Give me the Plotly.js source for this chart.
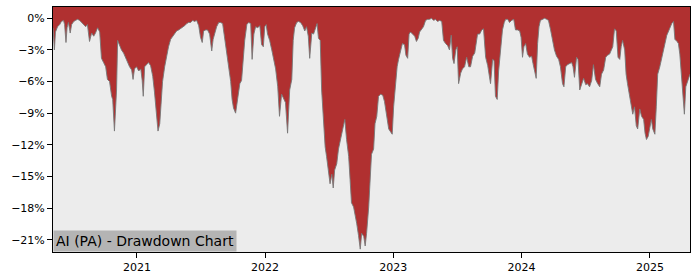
<!DOCTYPE html>
<html>
<head>
<meta charset="utf-8">
<script src="https://cdn.plot.ly/plotly-3.0.1.min.js"></script>
<style>html,body{margin:0;padding:0;background:#fff}#chart{width:700px;height:280px}</style>
</head>
<body>
<div id="chart"></div>
<script>
const chartTitle = "AI (PA) - Drawdown Chart";

const dates = [
"2020-05-07","2020-05-11","2020-05-14","2020-05-17","2020-05-20","2020-05-26","2020-05-31","2020-06-06","2020-06-09","2020-06-13",
"2020-06-16","2020-06-20","2020-06-25","2020-06-29","2020-07-05","2020-07-10","2020-07-16","2020-07-22","2020-07-27","2020-08-02",
"2020-08-08","2020-08-13","2020-08-19","2020-08-25","2020-08-31","2020-09-05","2020-09-11","2020-09-17","2020-09-22","2020-09-28",
"2020-10-04","2020-10-09","2020-10-15","2020-10-21","2020-10-24","2020-10-29","2020-11-04","2020-11-07","2020-11-13","2020-11-18",
"2020-11-24","2020-11-30","2020-12-05","2020-12-11","2020-12-17","2020-12-21","2020-12-25","2020-12-31","2021-01-06","2021-01-12",
"2021-01-16","2021-01-19","2021-01-23","2021-01-29","2021-02-03","2021-02-09","2021-02-15","2021-02-20","2021-02-26","2021-03-02",
"2021-03-07","2021-03-11","2021-03-15","2021-03-21","2021-03-27","2021-04-01","2021-04-07","2021-04-13","2021-04-18","2021-04-24",
"2021-04-30","2021-05-05","2021-05-11","2021-05-17","2021-05-23","2021-05-28","2021-06-03","2021-06-09","2021-06-14","2021-06-20",
"2021-06-26","2021-07-01","2021-07-06","2021-07-10","2021-07-16","2021-07-21","2021-07-27","2021-08-02","2021-08-06","2021-08-10",
"2021-08-16","2021-08-22","2021-08-27","2021-09-02","2021-09-08","2021-09-14","2021-09-19","2021-09-25","2021-09-29","2021-10-03",
"2021-10-09","2021-10-15","2021-10-21","2021-10-26","2021-10-31","2021-11-04","2021-11-10","2021-11-15","2021-11-21","2021-11-25",
"2021-11-30","2021-12-05","2021-12-11","2021-12-17","2021-12-22","2021-12-27","2021-12-31","2022-01-04","2022-01-08","2022-01-14",
"2022-01-20","2022-01-25","2022-01-31","2022-02-06","2022-02-11","2022-02-17","2022-02-23","2022-02-28","2022-03-06","2022-03-12",
"2022-03-18","2022-03-22","2022-03-26","2022-04-01","2022-04-06","2022-04-12","2022-04-18","2022-04-24","2022-04-29","2022-05-04",
"2022-05-08","2022-05-14","2022-05-19","2022-05-25","2022-05-29","2022-06-02","2022-06-07","2022-06-11","2022-06-17","2022-06-21",
"2022-06-25","2022-07-01","2022-07-05","2022-07-10","2022-07-14","2022-07-18","2022-07-24","2022-07-29","2022-08-04","2022-08-10",
"2022-08-16","2022-08-21","2022-08-27","2022-08-31","2022-09-04","2022-09-10","2022-09-14","2022-09-19","2022-09-24","2022-09-29",
"2022-10-03","2022-10-09","2022-10-13","2022-10-17","2022-10-23","2022-10-27","2022-10-31","2022-11-06","2022-11-10","2022-11-15",
"2022-11-20","2022-11-26","2022-12-02","2022-12-07","2022-12-13","2022-12-19","2022-12-25","2022-12-29","2023-01-02","2023-01-08",
"2023-01-12","2023-01-16","2023-01-22","2023-01-27","2023-02-02","2023-02-06","2023-02-11","2023-02-15","2023-02-19","2023-02-25",
"2023-03-03","2023-03-08","2023-03-13","2023-03-17","2023-03-23","2023-03-28","2023-04-03","2023-04-09","2023-04-14","2023-04-20",
"2023-04-26","2023-05-01","2023-05-07","2023-05-13","2023-05-19","2023-05-24","2023-05-30","2023-06-05","2023-06-10","2023-06-15",
"2023-06-19","2023-06-23","2023-06-28","2023-07-02","2023-07-06","2023-07-12","2023-07-17","2023-07-23","2023-07-29","2023-08-04",
"2023-08-09","2023-08-15","2023-08-21","2023-08-25","2023-08-29","2023-09-04","2023-09-10","2023-09-15","2023-09-21","2023-09-27",
"2023-10-01","2023-10-05","2023-10-11","2023-10-15","2023-10-19","2023-10-24","2023-10-28","2023-11-03","2023-11-08","2023-11-13",
"2023-11-17","2023-11-23","2023-11-28","2023-12-04","2023-12-10","2023-12-15","2023-12-21","2023-12-27","2023-12-31","2024-01-04",
"2024-01-08","2024-01-13","2024-01-18","2024-01-24","2024-01-30","2024-02-03","2024-02-07","2024-02-12","2024-02-16","2024-02-20",
"2024-02-24","2024-03-01","2024-03-07","2024-03-13","2024-03-18","2024-03-24","2024-03-30","2024-04-04","2024-04-10","2024-04-16",
"2024-04-21","2024-04-27","2024-05-01","2024-05-06","2024-05-11","2024-05-17","2024-05-23","2024-05-27","2024-05-31","2024-06-06",
"2024-06-10","2024-06-15","2024-06-20","2024-06-26","2024-07-02","2024-07-07","2024-07-13","2024-07-19","2024-07-24","2024-07-30",
"2024-08-05","2024-08-11","2024-08-16","2024-08-22","2024-08-28","2024-09-02","2024-09-08","2024-09-12","2024-09-17","2024-09-22",
"2024-09-27","2024-10-02","2024-10-07","2024-10-11","2024-10-15","2024-10-21","2024-10-25","2024-10-29","2024-11-04","2024-11-08",
"2024-11-13","2024-11-18","2024-11-23","2024-11-27","2024-12-03","2024-12-08","2024-12-14","2024-12-18","2024-12-22","2024-12-27",
"2024-12-31","2025-01-05","2025-01-09","2025-01-15","2025-01-19","2025-01-23","2025-01-29","2025-02-04","2025-02-10","2025-02-14",
"2025-02-18","2025-02-22","2025-02-27","2025-03-04","2025-03-09","2025-03-13","2025-03-19","2025-03-23","2025-03-27","2025-03-31",
"2025-04-05","2025-04-09","2025-04-13","2025-04-19","2025-04-25"
];

const drawdown = [
-0.9,-3.0,-1.3,-1.0,-0.8,-0.6,-0.3,-0.2,-0.6,-2.3,
-0.9,-0.4,-1.4,-0.6,-0.3,-0.2,-0.1,-0.2,-0.4,-0.6,
-0.8,-0.6,-2.2,-1.4,-1.7,-1.4,-0.9,-1.3,-3.8,-4.2,
-4.6,-5.8,-6.0,-7.4,-7.7,-10.7,-6.8,-2.1,-2.7,-3.0,
-3.3,-3.8,-4.2,-4.6,-4.9,-5.8,-4.8,-4.6,-5.0,-4.8,
-5.9,-7.4,-4.6,-4.4,-4.2,-4.5,-5.5,-7.0,-9.0,-10.7,
-10.0,-8.0,-6.0,-4.6,-3.5,-2.7,-2.0,-1.7,-1.4,-1.2,
-1.1,-1.0,-0.8,-0.7,-0.5,-0.4,-0.4,-0.2,-0.3,-0.2,
-0.7,-1.8,-2.3,-1.2,-1.1,-1.1,-1.5,-3.1,-2.0,-1.4,
-0.8,-0.4,-0.4,-0.5,-1.9,-3.5,-4.6,-6.0,-7.7,-8.5,
-9.0,-7.5,-6.2,-5.9,-3.4,-2.1,-0.6,-0.4,-0.5,-3.9,
-1.5,-0.8,-0.9,-0.7,-2.5,-2.7,-0.8,-0.6,-1.5,-2.1,
-3.0,-4.0,-4.8,-6.5,-9.3,-7.2,-7.7,-8.0,-10.9,-6.8,
-5.8,-2.1,-0.9,-0.4,-0.3,-0.4,-0.7,-1.2,-0.8,-1.7,
-3.8,-1.4,-1.5,-0.8,-0.5,-1.9,-2.1,-6.8,-10.0,-12.2,
-13.1,-14.7,-15.7,-14.8,-16.1,-14.4,-13.8,-12.4,-11.5,-10.3,
-9.6,-11.5,-13.1,-15.3,-17.5,-17.9,-18.5,-19.5,-20.6,-21.9,
-20.4,-20.7,-21.6,-20.4,-17.9,-15.7,-12.9,-12.4,-10.0,-9.3,
-7.4,-7.2,-7.3,-7.9,-9.3,-10.5,-10.8,-11.0,-8.4,-5.8,
-4.6,-3.9,-3.0,-2.4,-2.5,-3.5,-3.8,-1.5,-1.3,-1.5,
-1.7,-2.2,-1.9,-1.3,-1.0,-0.8,-0.2,-0.1,-0.1,0.0,
-0.2,-0.1,-0.3,-0.2,-0.3,-2.1,-2.4,-2.6,-3.0,-1.6,
-3.8,-4.3,-3.0,-2.7,-6.2,-5.2,-4.8,-4.6,-3.7,-4.6,
-4.6,-3.6,-3.3,-2.1,-1.5,-1.5,-1.1,-1.0,-3.7,-4.5,
-5.3,-6.2,-3.9,-4.0,-7.4,-7.7,-5.0,-3.0,-1.1,-0.4,
-0.1,-0.1,-0.4,-0.2,-0.1,-1.1,-1.1,-1.2,-1.8,-3.7,
-2.7,-2.4,-3.4,-3.7,-3.6,-4.3,-5.0,-5.7,-2.4,-0.8,
-0.2,-0.1,0.0,-0.1,-0.2,-1.1,-2.1,-3.0,-3.6,-3.9,
-4.6,-6.2,-6.5,-4.6,-4.4,-4.3,-4.2,-4.6,-5.6,-3.7,
-3.9,-6.8,-6.3,-5.7,-6.3,-6.2,-6.5,-5.9,-4.4,-5.8,
-6.2,-6.5,-5.3,-4.9,-3.7,-3.5,-3.4,-3.0,-2.7,-1.0,
-1.2,-3.7,-3.9,-2.7,-2.1,-3.0,-5.3,-6.2,-7.4,-8.1,
-9.1,-8.4,-10.2,-10.5,-8.6,-9.3,-9.6,-10.9,-11.5,-11.2,
-10.6,-9.6,-10.5,-11.0,-8.4,-5.3,-4.6,-3.6,-2.8,-2.1,
-1.6,-1.3,-0.8,-0.5,-0.3,-2.0,-2.2,-2.4,-3.4,-5.3,
-7.5,-9.1,-6.5,-5.8,-5.3
];

const yTickVals = [0, -3, -6, -9, -12, -15, -18, -21];
const xTickVals = ["2021-01-01", "2022-01-01", "2023-01-01", "2024-01-01", "2025-01-01"];
const xTickText = ["2021", "2022", "2023", "2024", "2025"];

const yRange = [-22.17, 1.07];
const xRange = ["2020-05-07", "2025-04-25"];

const topEdge = dates.map(() => yRange[1]);

const traces = [
  { x: dates, y: topEdge, type: "scatter", mode: "lines", line: { width: 0, color: "rgba(0,0,0,0)" }, hoverinfo: "skip", showlegend: false },
  { x: dates, y: drawdown, type: "scatter", mode: "lines", fill: "tonexty", fillcolor: "#b03030",
    line: { color: "rgba(120,120,120,0.9)", width: 1 }, showlegend: false }
];

const axisFont = { family: "DejaVu Sans", size: 11, color: "#000" };

const layout = {
  width: 700, height: 280,
  margin: { l: 53, r: 10, t: 7, b: 28 },
  paper_bgcolor: "#ffffff",
  plot_bgcolor: "#ececec",
  showlegend: false,
  xaxis: {
    type: "date", range: xRange, tickvals: xTickVals, ticktext: xTickText,
    showgrid: false, zeroline: false, showline: true, linecolor: "#000", linewidth: 1, mirror: true,
    ticks: "outside", ticklen: 5, tickcolor: "#000", tickfont: axisFont
  },
  yaxis: {
    range: yRange, tickvals: yTickVals, ticktext: yTickVals.map(v => (v < 0 ? "\u2212" + Math.abs(v) : v) + "%"),
    showgrid: false, zeroline: false, showline: true, linecolor: "#000", linewidth: 1, mirror: true,
    ticks: "outside", ticklen: 5, tickcolor: "#000", tickfont: axisFont
  },
  annotations: [{
    text: chartTitle, xref: "paper", yref: "paper", x: 0, y: 0, xanchor: "left", yanchor: "bottom",
    showarrow: false, bgcolor: "#b4b4b4", borderpad: 2,
    font: { family: "DejaVu Sans", size: 14, color: "#000" }
  }]
};

Plotly.newPlot("chart", traces, layout, { staticPlot: true, displayModeBar: false });
</script>
</body>
</html>
